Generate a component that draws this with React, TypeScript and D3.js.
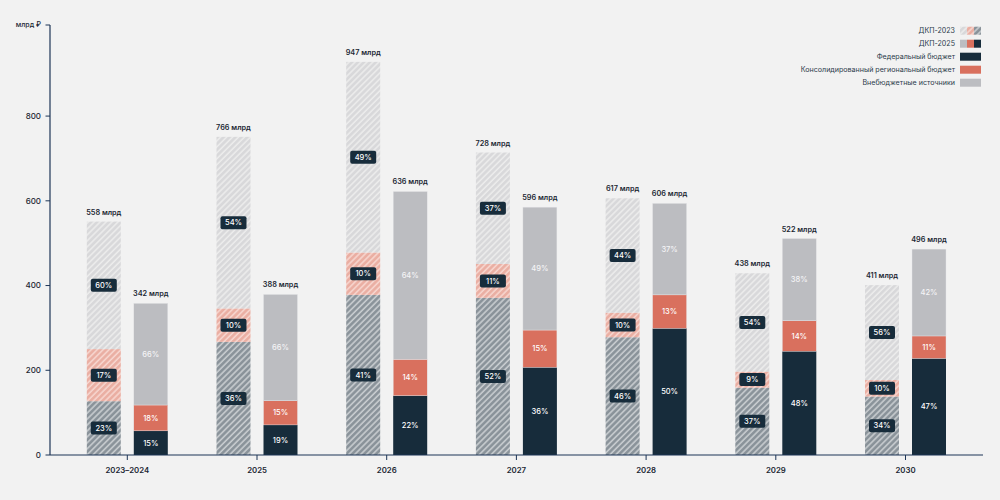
import React from "react";
import * as d3 from "d3";

const categories = ["2023–2024", "2025", "2026", "2027", "2028", "2029", "2030"];

// ДКП-2023 segments (млрд ₽)
const dkp2023Federal = [127, 267, 378, 371, 278, 159, 138];
const dkp2023Regional = [123, 79, 100, 80, 58, 38, 39];
const dkp2023Extra = [301, 405, 450, 263, 270, 232, 224];
// ДКП-2025 segments
const dkp2025Federal = [57, 71, 140, 207, 299, 245, 228];
const dkp2025Regional = [61, 57, 86, 88, 79, 72, 53];
const dkp2025Extra = [240, 251, 396, 290, 216, 194, 205];

const dkp2023Totals = ["558 млрд", "766 млрд", "947 млрд", "728 млрд", "617 млрд", "438 млрд", "411 млрд"];
const dkp2025Totals = ["342 млрд", "388 млрд", "636 млрд", "596 млрд", "606 млрд", "522 млрд", "496 млрд"];

const dkp2023FederalPct = ["23%", "36%", "41%", "52%", "46%", "37%", "34%"];
const dkp2023RegionalPct = ["17%", "10%", "10%", "11%", "10%", "9%", "10%"];
const dkp2023ExtraPct = ["60%", "54%", "49%", "37%", "44%", "54%", "56%"];
const dkp2025FederalPct = ["15%", "19%", "22%", "36%", "50%", "48%", "47%"];
const dkp2025RegionalPct = ["18%", "15%", "14%", "15%", "13%", "14%", "11%"];
const dkp2025ExtraPct = ["66%", "66%", "64%", "49%", "37%", "38%", "42%"];

const yTicks = [0, 200, 400, 600, 800];
const yMaxLabel = 1015;

const legendItems = [
  "ДКП-2023",
  "ДКП-2025",
  "Федеральный бюджет",
  "Консолидированный региональный бюджет",
  "Внебюджетные источники",
];

const C = {
  bg: "#f2f2f2",
  dark: "#172c3b",
  red: "#d9705e",
  gray: "#bcbdc1",
  axis: "#1d3557",
  text: "#1b2733",
};

const FONT = "Inter, 'Noto Sans', sans-serif";

export default function App() {
  const W = 1000;
  const H = 500;
  const y = d3.scaleLinear().domain([0, yMaxLabel]).range([455, 25]);
  const x = d3.scalePoint<string>().domain(categories).range([127.3, 905.5]);
  const sub = d3.scaleBand<string>().domain(["a", "b"]).range([-40.5, 40.5]).paddingInner(0.2766);
  const bw = sub.bandwidth();

  const stack = d3.stack<number>().keys(["f", "r", "e"]);
  const rows23 = categories.map((_, i) => ({ f: dkp2023Federal[i], r: dkp2023Regional[i], e: dkp2023Extra[i] }));
  const rows25 = categories.map((_, i) => ({ f: dkp2025Federal[i], r: dkp2025Regional[i], e: dkp2025Extra[i] }));
  const s23 = stack(rows23 as any);
  const s25 = stack(rows25 as any);

  const fill23 = ["url(#hDark)", "url(#hRed)", "url(#hLight)"];
  const fill25 = [C.dark, C.red, C.gray];
  const pct23 = [dkp2023FederalPct, dkp2023RegionalPct, dkp2023ExtraPct];
  const pct25 = [dkp2025FederalPct, dkp2025RegionalPct, dkp2025ExtraPct];

  return (
    <div style={{ position: "fixed", left: 0, top: 0 }}>
      <svg width={W} height={H} style={{ display: "block", fontFamily: FONT }}>
        <defs>
          {[
            ["hDark", "#899299", "#c9cdd0"],
            ["hRed", "#eaaea2", "#f7d6cf"],
            ["hLight", "#d8d8da", "#ececec"],
          ].map(([id, base, stripe]) => (
            <pattern key={id} id={id} width={4.2} height={4.2} patternUnits="userSpaceOnUse" patternTransform="rotate(45)">
              <rect width={4.2} height={4.2} fill={base} />
              <line x1={1} y1={0} x2={1} y2={4.2} stroke={stripe} strokeWidth={1.6} />
            </pattern>
          ))}
        </defs>
        <rect width={W} height={H} fill={C.bg} />

        {/* Y axis */}
        <line x1={50} x2={50} y1={y(yMaxLabel)} y2={y(0)} stroke={C.axis} strokeWidth={1.2} />
        {yTicks.map((t) => (
          <g key={t} transform={`translate(0,${y(t)})`}>
            <line x1={45.5} x2={50} stroke={C.axis} strokeWidth={1} />
            <text x={41} dy="0.35em" textAnchor="end" fontSize={8} fontWeight={500} fill={C.text}>
              {t}
            </text>
          </g>
        ))}
        <g transform={`translate(0,${y(yMaxLabel)})`}>
          <line x1={45.5} x2={50} stroke={C.axis} strokeWidth={1} />
          <text x={41} dy="0.35em" textAnchor="end" fontSize={7} fontWeight={500} fill={C.text}>
            млрд ₽
          </text>
        </g>

        {/* bars */}
        {categories.map((c, i) => {
          const cx = x(c)!;
          const x1 = cx + sub("a")!;
          const x2 = cx + sub("b")!;
          return (
            <g key={c}>
              {s23.map((layer, k) => {
                const [a, b] = layer[i];
                return <rect key={k} x={x1} width={bw} y={y(b)} height={y(a) - y(b)} fill={fill23[k]} />;
              })}
              {s25.map((layer, k) => {
                const [a, b] = layer[i];
                return (
                  <rect key={k} x={x2} width={bw} y={y(b)} height={y(a) - y(b)} fill={fill25[k]} stroke={k > 0 ? "#e6e6e8" : "none"} strokeWidth={k > 0 ? 0.4 : 0} />
                );
              })}
              {s23.map((layer, k) => {
                const [a, b] = layer[i];
                const my = (y(a) + y(b)) / 2;
                return (
                  <g key={"l" + k} transform={`translate(${x1 + bw / 2},${my})`}>
                    <rect x={-13} y={-6.5} width={26} height={13} rx={2} fill={C.dark} />
                    <text dy="0.35em" textAnchor="middle" fontSize={7.5} fontWeight={500} fill="#fff">
                      {pct23[k][i]}
                    </text>
                  </g>
                );
              })}
              {s25.map((layer, k) => {
                const [a, b] = layer[i];
                const my = (y(a) + y(b)) / 2;
                return (
                  <text key={"m" + k} x={x2 + bw / 2} y={my} dy="0.35em" textAnchor="middle" fontSize={7.5} fontWeight={500} fill={k === 2 ? "#f4f4f6" : "#fff"}>
                    {pct25[k][i]}
                  </text>
                );
              })}
              <text x={x1 + bw / 2} y={y(s23[2][i][1]) - 7} textAnchor="middle" fontSize={7.3} fontWeight={600} fill={C.text}>
                {dkp2023Totals[i]}
              </text>
              <text x={x2 + bw / 2} y={y(s25[2][i][1]) - 7} textAnchor="middle" fontSize={7.3} fontWeight={600} fill={C.text}>
                {dkp2025Totals[i]}
              </text>
            </g>
          );
        })}

        {/* X axis */}
        <line x1={50} x2={983} y1={y(0)} y2={y(0)} stroke={C.axis} strokeWidth={1.2} />
        {categories.map((c) => (
          <g key={c} transform={`translate(${x(c)},${y(0)})`}>
            <line y1={0} y2={5} stroke={C.axis} strokeWidth={1} />
            <text y={15} dy="0.35em" textAnchor="middle" fontSize={7.8} fontWeight={600} fill={C.text}>
              {c}
            </text>
          </g>
        ))}

        {/* legend */}
        {legendItems.map((item, i) => {
          const ly = 30.7 + i * 13;
          return (
            <g key={item} transform={`translate(0,${ly})`}>
              <text x={955} dy="0.35em" textAnchor="end" fontSize={7.1} fill="#2a3a4a">
                {item}
              </text>
              {i === 0 && (
                <g>
                  <rect x={960} y={-4} width={7} height={8} fill="url(#hLight)" />
                  <rect x={967} y={-4} width={7} height={8} fill="url(#hRed)" />
                  <rect x={974} y={-4} width={7} height={8} fill="url(#hDark)" />
                </g>
              )}
              {i === 1 && (
                <g>
                  <rect x={960} y={-4} width={7} height={8} fill={C.gray} />
                  <rect x={967} y={-4} width={7} height={8} fill={C.red} />
                  <rect x={974} y={-4} width={7} height={8} fill={C.dark} />
                </g>
              )}
              {i === 2 && <rect x={960} y={-4} width={21} height={8} fill={C.dark} />}
              {i === 3 && <rect x={960} y={-4} width={21} height={8} fill={C.red} />}
              {i === 4 && <rect x={960} y={-4} width={21} height={8} fill={C.gray} />}
            </g>
          );
        })}
      </svg>
    </div>
  );
}
